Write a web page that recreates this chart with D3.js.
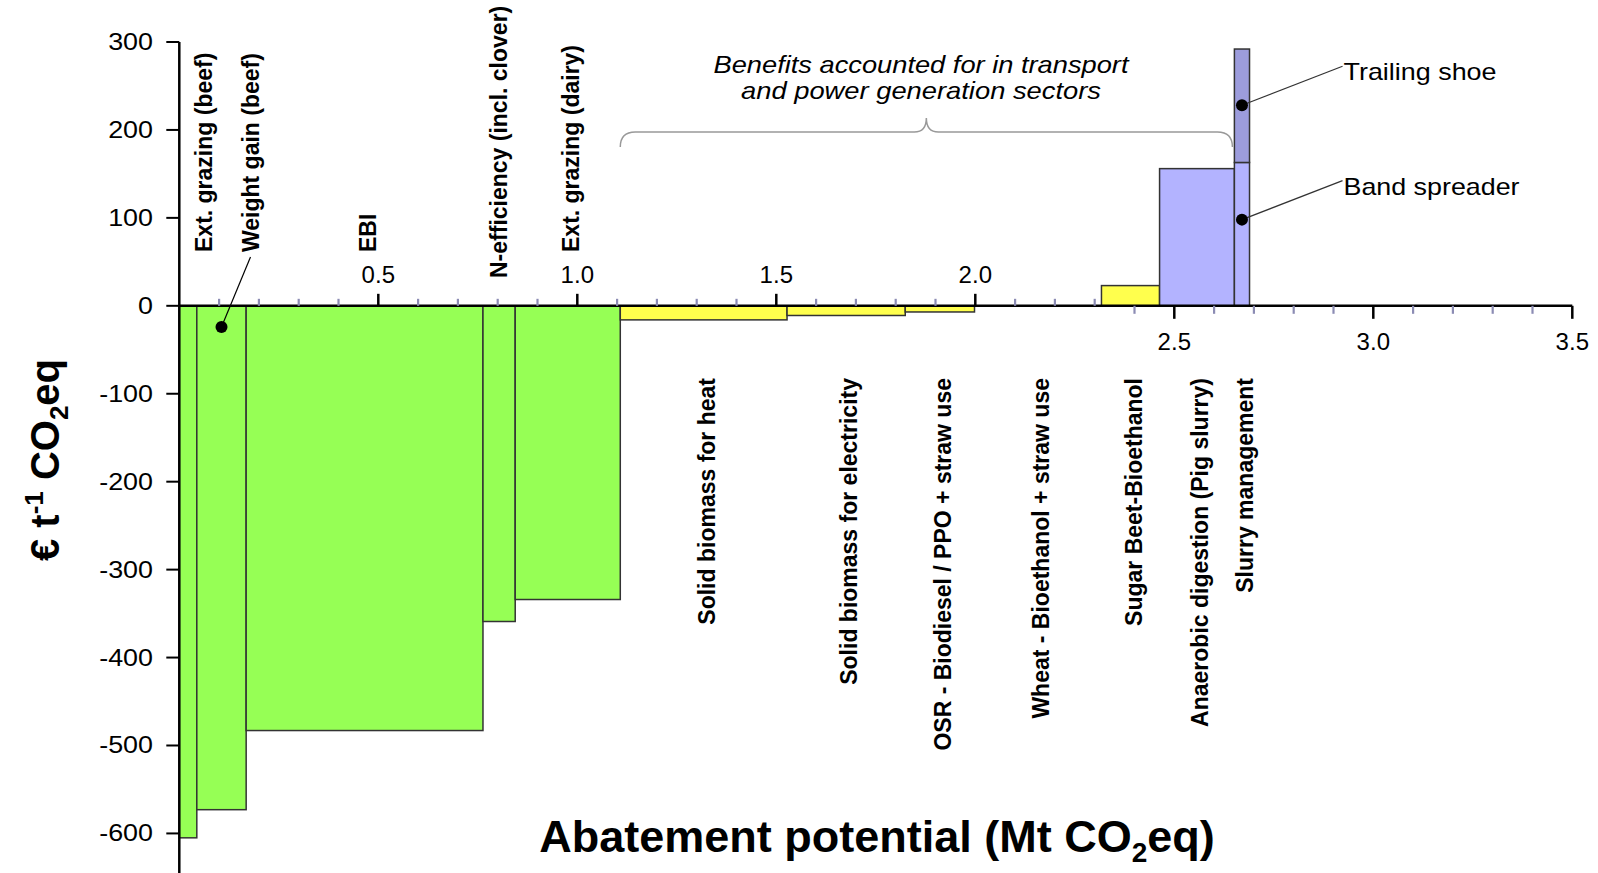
<!DOCTYPE html>
<html>
<head>
<meta charset="utf-8">
<script src="https://cdn.jsdelivr.net/npm/d3@7"></script>
<style>
  body { margin: 0; background: #fff; }
  text { font-family: "Liberation Sans", Arial, sans-serif; fill: #000; }
  .catLabel { font-weight: bold; font-size: 23px; }
  .tickLabel { font-size: 24px; }
  .note { font-size: 24px; }
</style>
</head>
<body>
<div id="chart"></div>
<script>
// measures, in merit order
var measures = ["Ext. grazing (beef)", "Weight gain (beef)", "EBI", "N-efficiency (incl. clover)",
    "Ext. grazing (dairy)", "Solid biomass for heat", "Solid biomass for electricity",
    "OSR - Biodiesel / PPO + straw use", "Wheat - Bioethanol + straw use", "Sugar Beet-Bioethanol",
    "Anaerobic digestion (Pig slurry)", "Slurry management"];
var groups = ["livestock", "livestock", "livestock", "livestock", "livestock",
    "bioenergy", "bioenergy", "bioenergy", "bioenergy", "bioenergy", "manure", "manure"];
// abatement potential (Mt CO2eq) of each measure
var potential = [0.044, 0.124, 0.595, 0.081, 0.264, 0.419, 0.297, 0.174, 0.319, 0.146, 0.188, 0.038];
// cost (EUR per t CO2eq)
var cost = [-605, -573, -483, -359, -334, -16, -11, -7, 0, 23, 156, 163];

// slurry management spreading options (stacked)
var slurryOptions = ["Band spreader", "Trailing shoe"];
var slurryCost = [163, 292];
var slurryMarker = [98, 228];
var weightGainMarker = -24;

var yTicks = [300, 200, 100, 0, -100, -200, -300, -400, -500, -600];
var xMajor = [0.5, 1.0, 1.5, 2.0, 2.5, 3.0, 3.5];

var colors = {livestock: "#96ff55", bioenergy: "#ffff4d", manure: "#b3b3ff", shoe: "#9c9cdc"};

var W = 1598, H = 873;

var svg = d3.select("#chart").append("svg")
    .attr("width", W).attr("height", H);

var x = d3.scaleLinear().domain([0, 3.5]).range([179.3, 1572.3]);
var y = d3.scaleLinear().domain([-645, 300]).range([873, 42]);

// cumulative positions
var data = [];
var start = 0;
measures.forEach((m, i) => {
    data.push({name: m, group: groups[i], x0: start, x1: start + potential[i], cost: cost[i]});
    start += potential[i];
});
var slurry = data[data.length - 1];

// bars
svg.append("g").selectAll("rect")
    .data(data.filter(d => d.cost !== 0))
    .enter().append("rect")
    .attr("x", d => x(d.x0))
    .attr("width", d => x(d.x1) - x(d.x0))
    .attr("y", d => y(Math.max(0, d.cost)))
    .attr("height", d => Math.abs(y(d.cost) - y(0)))
    .attr("fill", d => colors[d.group])
    .attr("stroke", "#333")
    .attr("stroke-width", 1.5);

// trailing shoe stacked on top of band spreader
svg.append("rect")
    .attr("x", x(slurry.x0))
    .attr("width", x(slurry.x1) - x(slurry.x0))
    .attr("y", y(slurryCost[1]))
    .attr("height", y(slurryCost[0]) - y(slurryCost[1]))
    .attr("fill", colors.shoe)
    .attr("stroke", "#333")
    .attr("stroke-width", 1.5);

// y axis
var yAxis = svg.append("g");
yAxis.append("line")
    .attr("x1", x(0)).attr("x2", x(0))
    .attr("y1", y(300)).attr("y2", H)
    .attr("stroke", "#000").attr("stroke-width", 2.5);
yAxis.selectAll(".yt").data(yTicks).enter().append("line")
    .attr("x1", x(0) - 13).attr("x2", x(0))
    .attr("y1", d => y(d)).attr("y2", d => y(d))
    .attr("stroke", "#000").attr("stroke-width", 2);
yAxis.selectAll(".yl").data(yTicks).enter().append("text")
    .attr("class", "tickLabel")
    .attr("x", 153)
    .attr("y", d => y(d) + 8)
    .attr("text-anchor", "end")
    .text(d => d);

// x axis
var xAxis = svg.append("g");
xAxis.append("line")
    .attr("x1", x(0)).attr("x2", x(3.5))
    .attr("y1", y(0)).attr("y2", y(0))
    .attr("stroke", "#000").attr("stroke-width", 2.5);
var minor = d3.range(1, 36).map(i => i / 10).filter(v => Math.abs(v * 2 - Math.round(v * 2)) > 1e-6);
var up = v => v < 2.35;
xAxis.selectAll(".xm").data(minor).enter().append("line")
    .attr("x1", d => x(d)).attr("x2", d => x(d))
    .attr("y1", y(0))
    .attr("y2", d => up(d) ? y(0) - 7 : y(0) + 8)
    .attr("stroke", "#8c8cb4").attr("stroke-width", 2.2);
xAxis.selectAll(".xM").data(xMajor).enter().append("line")
    .attr("x1", d => x(d)).attr("x2", d => x(d))
    .attr("y1", y(0))
    .attr("y2", d => up(d) ? y(0) - 12 : y(0) + 13)
    .attr("stroke", "#000").attr("stroke-width", 2.5);
xAxis.selectAll(".xl").data(xMajor).enter().append("text")
    .attr("class", "tickLabel")
    .attr("x", d => x(d))
    .attr("y", d => up(d) ? 283 : 350)
    .attr("text-anchor", "middle")
    .text(d => d3.format(".1f")(d));

// measure labels
var nudge = {"Ext. grazing (beef)": [16, 0], "Weight gain (beef)": [30, 0], "N-efficiency (incl. clover)": [0, 26]};
data.forEach(d => {
    var n = nudge[d.name] || [3, 0];
    var cx = (x(d.x0) + x(d.x1)) / 2 + n[0];
    d.labelX = cx;
    var above = d.cost < -100;
    var ty = above ? 252 + n[1] : 378;
    svg.append("text")
        .attr("class", "catLabel")
        .attr("transform", `translate(${cx + 8}, ${ty}) rotate(-90)`)
        .attr("text-anchor", above ? "start" : "end")
        .text(d.name);
});

// weight gain leader
var wg = data[1];
var wgX = (x(wg.x0) + x(wg.x1)) / 2;
svg.append("line")
    .attr("x1", wgX).attr("y1", y(weightGainMarker))
    .attr("x2", wg.labelX - 1).attr("y2", 257)
    .attr("stroke", "#000").attr("stroke-width", 1.2);
svg.append("circle")
    .attr("cx", wgX).attr("cy", y(weightGainMarker)).attr("r", 6);

// slurry options markers
var sX = (x(slurry.x0) + x(slurry.x1)) / 2;
slurryOptions.forEach((s, i) => {
    var py = y(slurryMarker[i]);
    var tx = x(slurry.x1) + 94;
    svg.append("line")
        .attr("x1", sX).attr("y1", py)
        .attr("x2", tx - 1).attr("y2", py - 39)
        .attr("stroke", "#333").attr("stroke-width", 1.2);
    svg.append("circle").attr("cx", sX).attr("cy", py).attr("r", 6);
    svg.append("text")
        .attr("class", "note")
        .attr("x", tx).attr("y", py - 25)
        .text(s)
        .attr("textLength", s === "Trailing shoe" ? 153 : 176)
        .attr("lengthAdjust", "spacingAndGlyphs");
});

// brace over the bioenergy measures
var bx0 = x(data[5].x0), bx1 = x(data[10].x1) - 2, bm = (bx0 + bx1) / 2;
var by = 132;
svg.append("path")
    .attr("d", `M${bx0},${by + 15} Q${bx0},${by} ${bx0 + 15},${by} L${bm - 12},${by} Q${bm},${by} ${bm},${by - 14} Q${bm},${by} ${bm + 12},${by} L${bx1 - 15},${by} Q${bx1},${by} ${bx1},${by + 15}`)
    .attr("fill", "none")
    .attr("stroke", "#999")
    .attr("stroke-width", 1.5);

var noteLines = ["Benefits accounted for in transport", "and power generation sectors"];
var noteLen = [415, 360];
noteLines.forEach((t, i) => {
    svg.append("text")
        .attr("class", "note")
        .attr("x", 921).attr("y", 73 + i * 26)
        .attr("text-anchor", "middle")
        .style("font-style", "italic")
        .attr("textLength", noteLen[i])
        .attr("lengthAdjust", "spacingAndGlyphs")
        .text(t);
});

// axis titles
var xt = svg.append("text")
    .attr("x", 877).attr("y", 852)
    .attr("text-anchor", "middle")
    .style("font-weight", "bold").style("font-size", "45px");
xt.append("tspan").text("Abatement potential (Mt CO");
xt.append("tspan").text("2").style("font-size", "28px").attr("dy", 10);
xt.append("tspan").text("eq)").attr("dy", -10);

var yt = svg.append("text")
    .attr("transform", "translate(59, 460) rotate(-90)")
    .attr("text-anchor", "middle")
    .style("font-weight", "bold").style("font-size", "40px");
yt.append("tspan").text("€ t");
yt.append("tspan").text("-1").style("font-size", "26px").attr("dy", -16);
yt.append("tspan").text(" CO").attr("dy", 16);
yt.append("tspan").text("2").style("font-size", "26px").attr("dy", 9);
yt.append("tspan").text("eq").attr("dy", -9);

// y tick labels are drawn a bit wider in the original
yAxis.selectAll("text").each(function () {
    var w = this.getComputedTextLength();
    d3.select(this).attr("textLength", w * 1.12).attr("lengthAdjust", "spacingAndGlyphs");
});
</script>
</body>
</html>
